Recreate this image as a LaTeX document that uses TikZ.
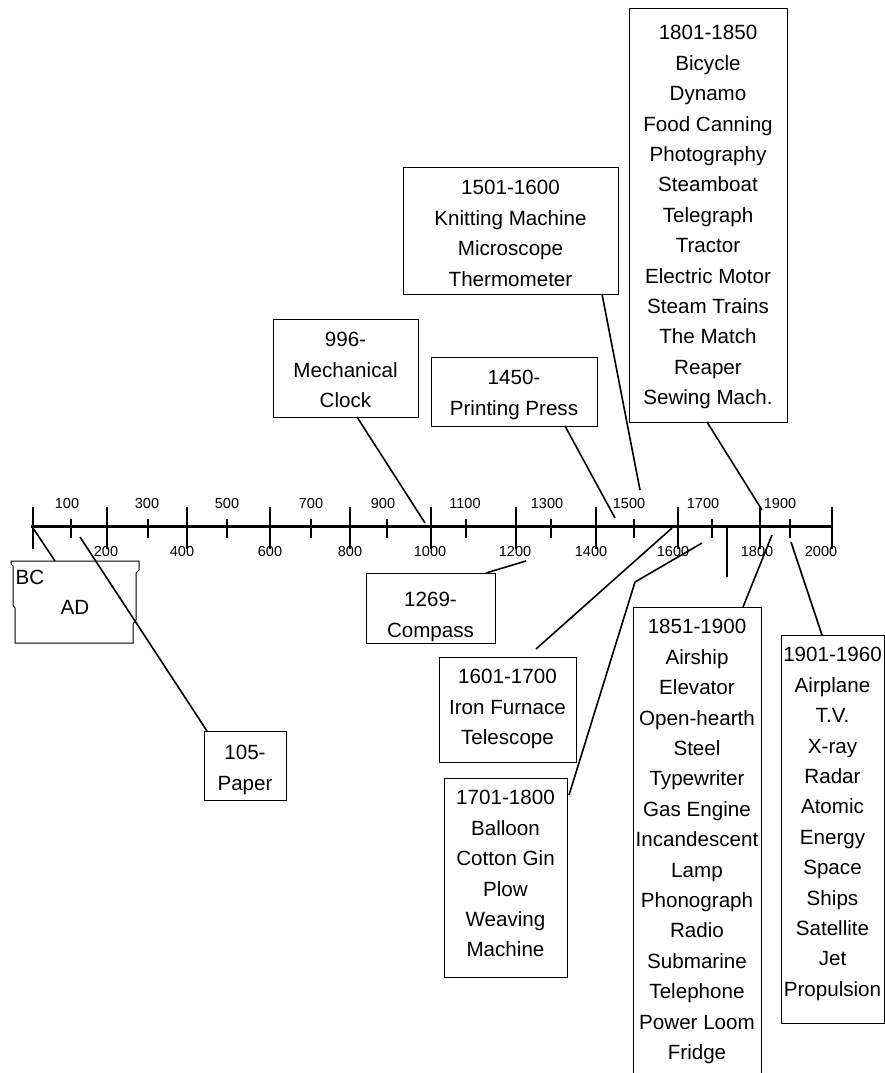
\documentclass[tikz,border=0pt]{standalone}
\usepackage{fontspec}
\setmainfont{Liberation Sans}
\usetikzlibrary{calc}
\begin{document}
\begin{tikzpicture}[x=1pt,y=-1pt,
  frame/.style={draw, line width=1pt, inner sep=0pt, outer sep=0pt, anchor=north west},
  txt/.style={inner sep=0pt, outer sep=0pt, align=center, font=\fontsize{20.6}{30.4}\selectfont},
  ticklab/.style={inner sep=0pt, font=\fontsize{14.5}{16}\selectfont},
  conn/.style={line width=1.6pt},
  axisline/.style={line width=3pt},
  tickmark/.style={line width=2pt}]
\useasboundingbox (0,0) rectangle (885,1073);

% axis
\coordinate (ax0) at (31,526);
\coordinate (axEnd) at (833,526);
\draw[axisline] (ax0) -- (axEnd);
\foreach \x in {33,107,187,270,350,431,516,596,678,760,832}
  \draw[tickmark] (\x,507) -- (\x,549);
\foreach \x in {71,148,227,311,387,466,551,634,712,790}
  \draw[tickmark] (\x,519) -- (\x,538);
\draw[line width=2.6pt] (727,526) -- (727,577);

% tick labels
\foreach \x/\t in {67/100,147/300,227/500,311/700,383/900,465/1100,547/1300,629/1500,703/1700,780/1900}
  \node[ticklab] (lab\t) at (\x,504) {\t};
\foreach \x/\t in {106/200,182/400,270/600,350/800,430/1000,515/1200,591/1400,673/1600,757/1800,821/2000}
  \node[ticklab] (lab\t) at (\x,552) {\t};

% axis end points of connectors
\coordinate (e0) at (33,528);
\coordinate (e105) at (80,537);
\coordinate (e996) at (425,523);
\coordinate (e1269) at (526,561);
\coordinate (e1450) at (615,518);
\coordinate (e1501) at (640,490);
\coordinate (e1601) at (672,528);
\coordinate (k1701) at (635,582);
\coordinate (e1701) at (702,543);
\coordinate (e1801) at (762,510);
\coordinate (e1851) at (772,535);
\coordinate (e1901) at (791,542);

% BC / AD box
\draw[line width=1pt] (11,561) -- (139,561) -- (139,570) -- (136,573) -- (136,620) -- (133,624)
  -- (133,643) -- (15,643) -- (15,608) -- (13,605) -- (13,566) -- (11,564) -- cycle;
\coordinate (bcad) at (55,561);
\node[txt] (bc) at (30,577) {BC};
\node[txt] (ad) at (75,607) {AD};

% boxes
\node[frame, minimum width=82pt, minimum height=69pt] (paper) at (204,731) {};
\node[txt, anchor=north] (tpaper) at ($(paper.north)+(0,14.6)$) {105-\\Paper};

\node[frame, minimum width=145pt, minimum height=98pt] (b996) at (273,319) {};
\node[txt, anchor=north] (t996) at ($(b996.north)+(0,13.6)$) {996-\\Mechanical\\Clock};

\node[frame, minimum width=129pt, minimum height=70pt] (b1269) at (366,573) {};
\node[txt, anchor=north] (t1269) at ($(b1269.north)+(0,19.6)$) {1269-\\Compass};

\node[frame, minimum width=166pt, minimum height=69pt] (b1450) at (431,357) {};
\node[txt, anchor=north] (t1450) at ($(b1450.north)+(0,13.6)$) {1450-\\Printing Press};

\node[frame, minimum width=215pt, minimum height=127pt] (b1501) at (403,167) {};
\node[txt, anchor=north] (t1501) at ($(b1501.north)+(0,13.6)$) {1501-1600\\Knitting Machine\\Microscope\\Thermometer};

\node[frame, minimum width=137pt, minimum height=105pt] (b1601) at (439,657) {};
\node[txt, anchor=north] (t1601) at ($(b1601.north)+(0,12.6)$) {1601-1700\\Iron Furnace\\Telescope};

\node[frame, minimum width=123pt, minimum height=199pt] (b1701) at (444,778) {};
\node[txt, anchor=north] (t1701) at ($(b1701.north)+(0,12.6)$) {1701-1800\\Balloon\\Cotton Gin\\Plow\\Weaving\\Machine};

\node[frame, minimum width=158pt, minimum height=413pt] (b1801) at (629,9) {};
\node[txt, anchor=north] (t1801) at ($(b1801.north)+(0,16.6)$) {1801-1850\\Bicycle\\Dynamo\\Food Canning\\Photography\\Steamboat\\Telegraph\\Tractor\\Electric Motor\\Steam Trains\\The Match\\Reaper\\Sewing Mach.};

\node[frame, minimum width=128pt, minimum height=480pt] (b1851) at (633,607) {};
\node[txt, anchor=north] (t1851) at ($(b1851.north)+(0,12.6)$) {1851-1900\\Airship\\Elevator\\Open-hearth\\Steel\\Typewriter\\Gas Engine\\Incandescent\\Lamp\\Phonograph\\Radio\\Submarine\\Telephone\\Power Loom\\Fridge};

\node[frame, minimum width=103pt, minimum height=388pt] (b1901) at (781,635) {};
\node[txt, anchor=north] (t1901) at ($(b1901.north)+(0,12.6)$) {1901-1960\\Airplane\\T.V.\\X-ray\\Radar\\Atomic\\Energy\\Space\\Ships\\Satellite\\Jet\\Propulsion};

% connectors
\draw[conn] (bcad) -- (e0);
\draw[conn] ($(paper.north west)+(3,0)$) -- (e105);
\draw[conn] ($(b996.south west)+(84,0)$) -- (e996);
\draw[conn] ($(b1269.north east)+(-9,0)$) -- (e1269);
\draw[conn] ($(b1450.south west)+(134,0)$) -- (e1450);
\draw[conn] ($(b1501.south east)+(-16,0)$) -- (e1501);
\draw[conn] ($(b1601.north west)+(97,-8)$) -- (e1601);
\draw[conn] ($(b1701.north east)+(2,17)$) -- (k1701) -- (e1701);
\draw[conn] ($(b1801.south west)+(78,0)$) -- (e1801);
\draw[conn] ($(b1851.north west)+(110,0)$) -- (e1851);
\draw[conn] ($(b1901.north west)+(41,0)$) -- (e1901);
\end{tikzpicture}
\end{document}
